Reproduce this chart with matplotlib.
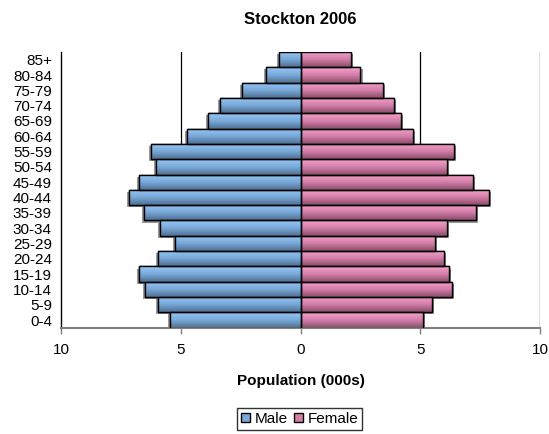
import numpy as np
import matplotlib
matplotlib.use("Agg")
import matplotlib.pyplot as plt
from matplotlib import patheffects
from matplotlib.colors import LinearSegmentedColormap
from matplotlib.patches import Patch

plt.rcParams['font.family'] = ['Liberation Sans', 'DejaVu Sans']

age_groups = ['0-4', '5-9', '10-14', '15-19', '20-24', '25-29', '30-34', '35-39',
              '40-44', '45-49', '50-54', '55-59', '60-64', '65-69', '70-74',
              '75-79', '80-84', '85+']
male = [5.45, 5.95, 6.5, 6.75, 5.95, 5.25, 5.85, 6.55,
        7.15, 6.75, 6.05, 6.25, 4.75, 3.85, 3.35, 2.45, 1.45, 0.9]
female = [5.1, 5.5, 6.3, 6.2, 6.0, 5.6, 6.1, 7.3,
          7.85, 7.2, 6.1, 6.4, 4.7, 4.2, 3.9, 3.45, 2.5, 2.1]

male_cmap = LinearSegmentedColormap.from_list('m', ['#4f6f93', '#7aa9d8', '#96c8f8'])
female_cmap = LinearSegmentedColormap.from_list('f', ['#8a4d6b', '#d47fa9', '#f7a3cc'])

fig = plt.figure(figsize=(5.49, 4.34), dpi=100)
ax = fig.add_axes([0.111, 0.245, 0.873, 0.635])

y = np.arange(len(age_groups))
grad = np.linspace(0, 1, 64).reshape(-1, 1)


def gradient_bars(vals, cmap, shadow_dx):
    bars = ax.barh(y, vals, height=1.0, color=cmap(0.5), edgecolor='black',
                   linewidth=1.0, zorder=2)
    for b in bars:
        b.set_path_effects([
            patheffects.SimplePatchShadow(offset=(shadow_dx, -1.5),
                                          shadow_rgbFace='#555555', alpha=0.6),
            patheffects.Normal()])
        x0, y0 = b.get_x(), b.get_y()
        w, h = b.get_width(), b.get_height()
        im = ax.imshow(grad, cmap=cmap, aspect='auto', origin='lower',
                       extent=[x0, x0 + w, y0, y0 + h], zorder=2.5)
        im.set_clip_path(b)
    ax.barh(y, vals, height=1.0, fill=False, edgecolor='black',
            linewidth=1.0, zorder=3)
    return bars


gradient_bars([-v for v in male], male_cmap, -1.5)
gradient_bars(female, female_cmap, 1.5)

for gx in [-5, 5, 10]:
    ax.axvline(gx, color='black', linewidth=0.9, zorder=1)

ax.set_xlim(-10, 10)
ax.set_ylim(-0.5, len(age_groups) - 0.5)
ax.set_xticks([-10, -5, 0, 5, 10])
ax.set_xticklabels(['10', '5', '0', '5', '10'])
ax.set_yticks(y)
ax.set_yticklabels(age_groups)
ax.tick_params(axis='y', length=0, pad=6.5, labelsize=11)
ax.tick_params(axis='x', length=4, width=1, color='#808080', labelsize=11, pad=7)

for s in ['top', 'right']:
    ax.spines[s].set_visible(False)
ax.spines['left'].set_color('black')
ax.spines['left'].set_linewidth(1.0)
ax.spines['bottom'].set_color('#808080')
ax.spines['bottom'].set_linewidth(1.5)

ax.set_xlabel('Population (000s)', fontsize=11, fontweight='bold', labelpad=12)
ax.set_title('Stockton 2006', fontsize=12, fontweight='bold', pad=20)

handles = [Patch(facecolor=male_cmap(0.5), edgecolor='black', label='Male'),
           Patch(facecolor=female_cmap(0.5), edgecolor='black', label='Female')]
fig.legend(handles=handles, loc='center', bbox_to_anchor=(0.546, 0.035), ncol=2,
           frameon=True, fancybox=False, edgecolor='black', fontsize=11,
           handlelength=0.6, handleheight=0.6, handletextpad=0.3,
           columnspacing=0.4, borderpad=0.25, borderaxespad=0)

fig.savefig('out.png', dpi=100)
